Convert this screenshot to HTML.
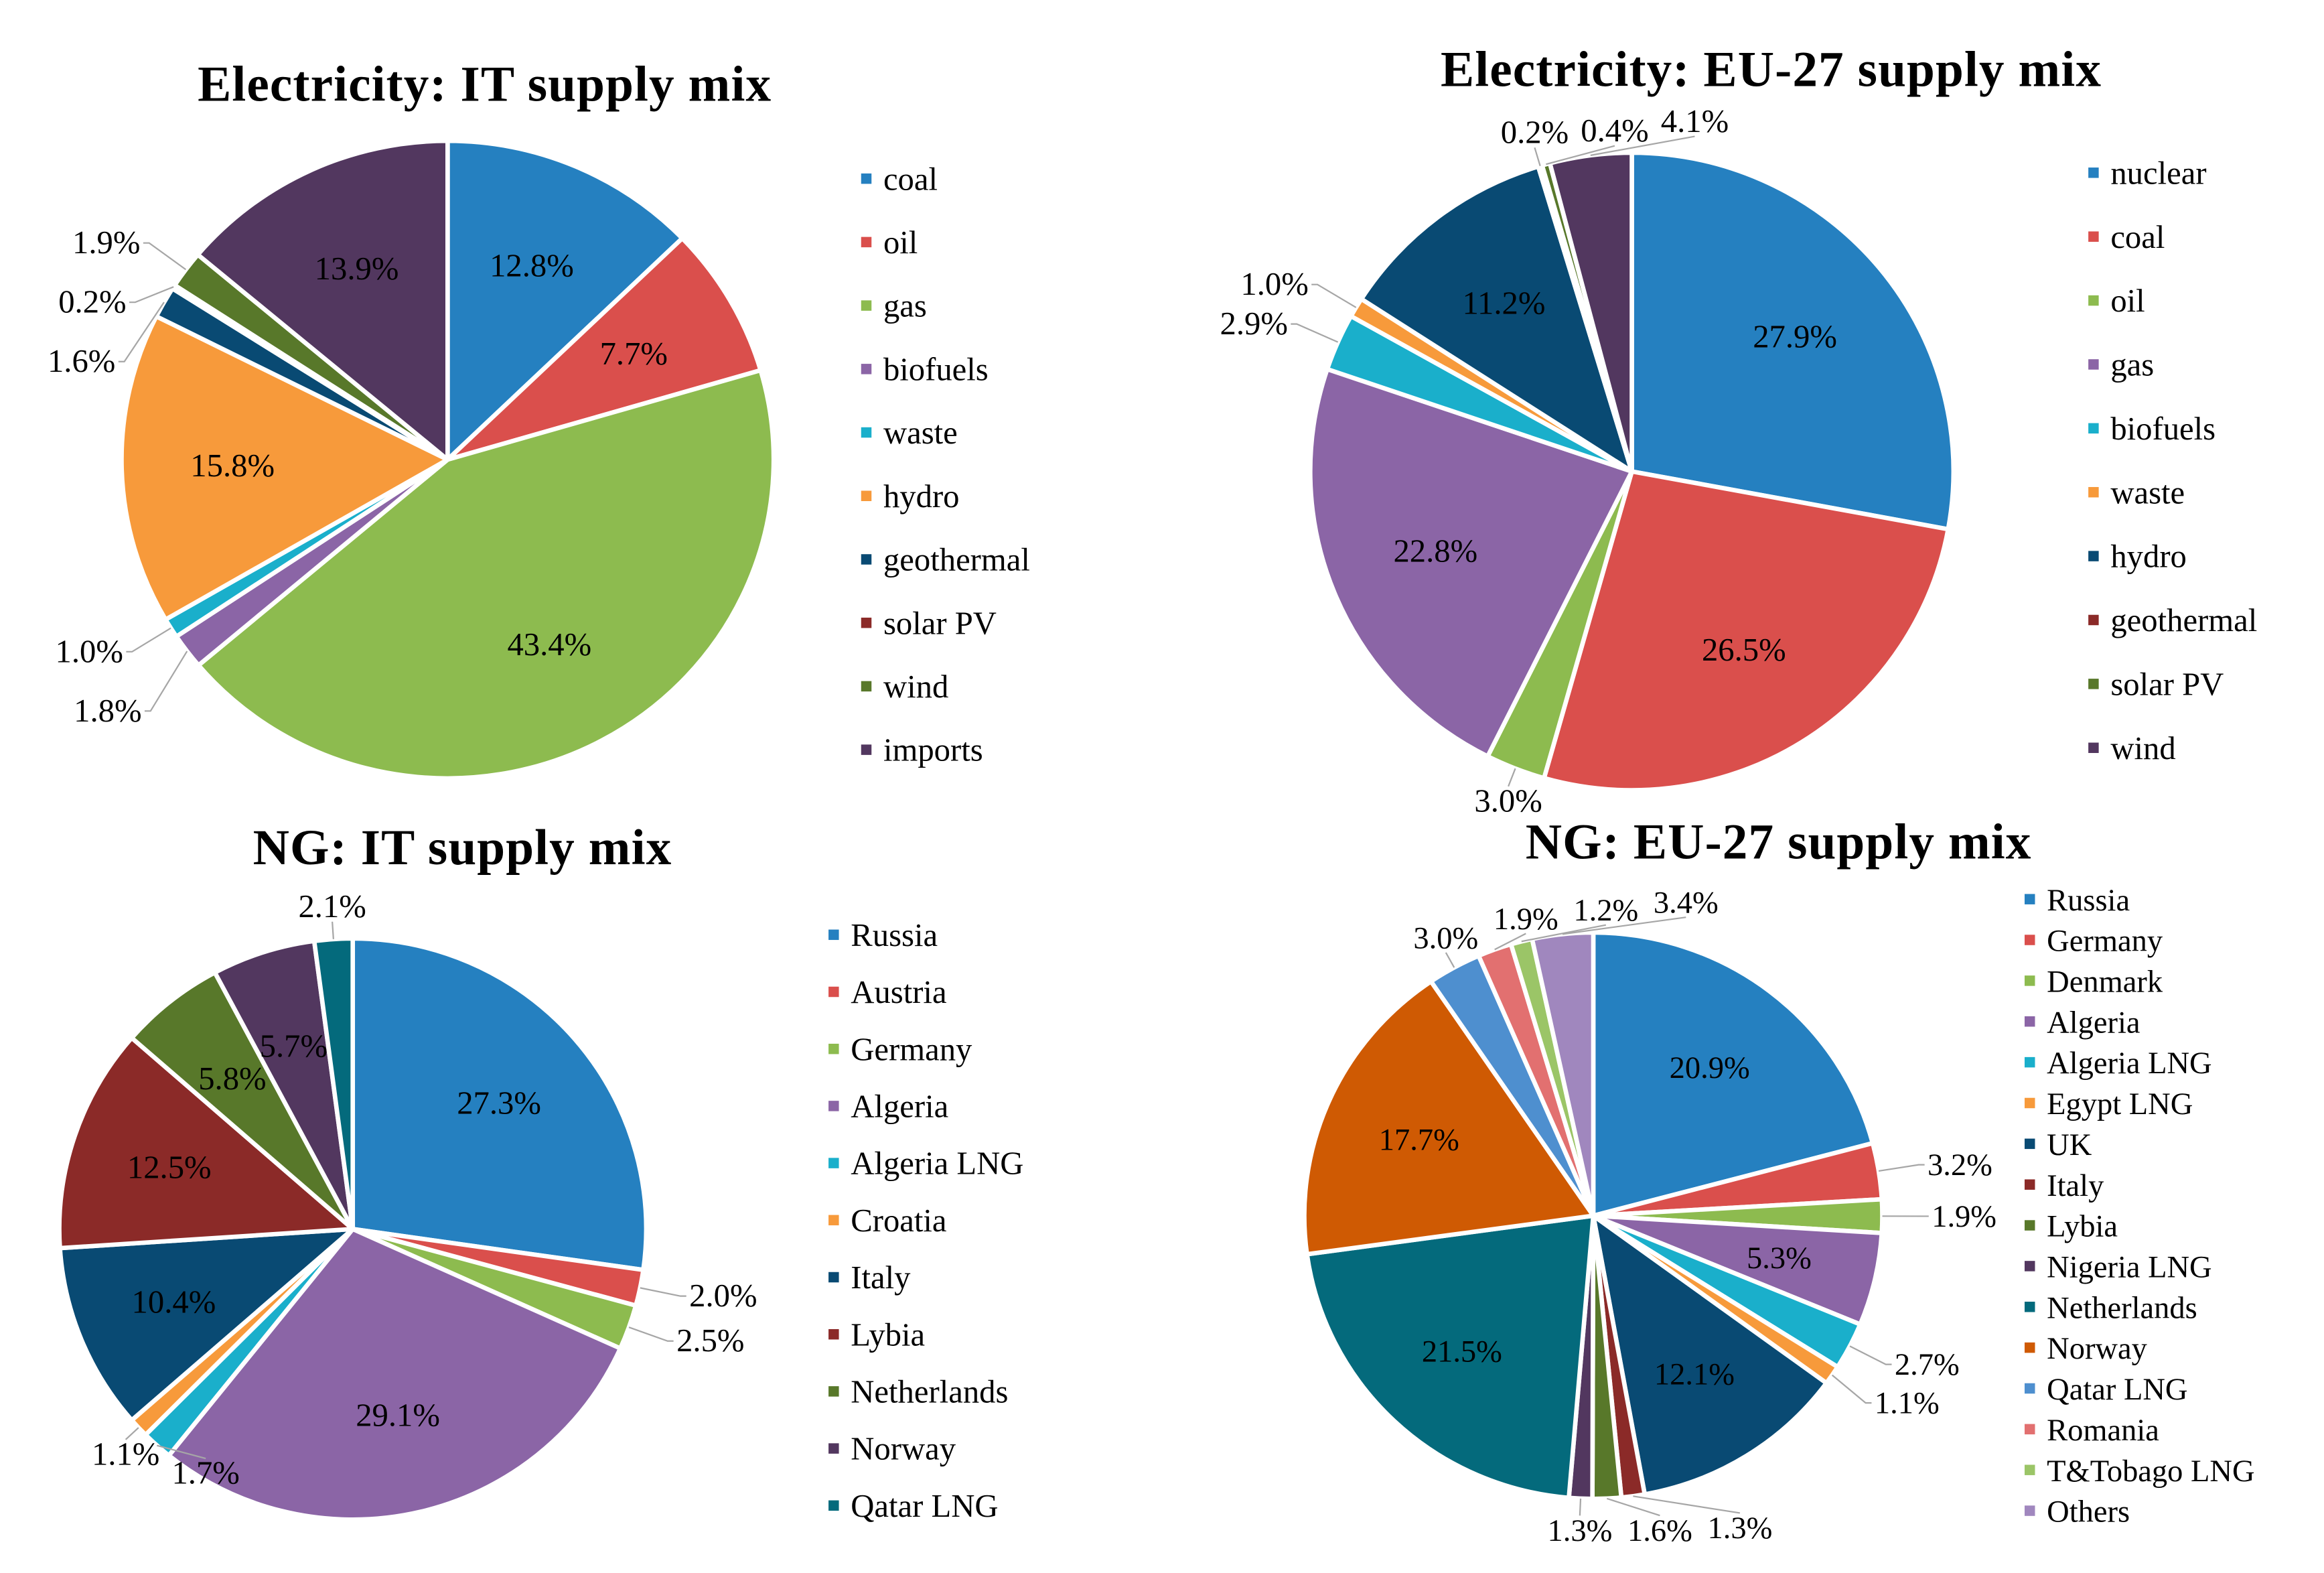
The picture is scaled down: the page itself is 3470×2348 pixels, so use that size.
<!DOCTYPE html>
<html><head><meta charset="utf-8"><style>
html,body{margin:0;padding:0;background:#fff;}
svg{display:block;}
text{font-family:"Liberation Serif",serif;}
</style></head><body>
<svg id="chart" width="3470" height="2348" viewBox="0 0 1568 1061" xmlns="http://www.w3.org/2000/svg">
<rect width="1568" height="1061" fill="#fff"/>
</svg>
<script>
const elecItCategories=["coal","oil","gas","biofuels","waste","hydro","geothermal","solar PV","wind","imports"];
const elecItValues=[12.8,7.7,43.4,1.8,1.0,15.8,1.6,0.2,1.9,13.9];
const elecEuCategories=["nuclear","coal","oil","gas","biofuels","waste","hydro","geothermal","solar PV","wind"];
const elecEuValues=[27.9,26.5,3.0,22.8,2.9,1.0,11.2,0.2,0.4,4.1];
const ngItCategories=["Russia","Austria","Germany","Algeria","Algeria LNG","Croatia","Italy","Lybia","Netherlands","Norway","Qatar LNG"];
const ngItValues=[27.3,2.0,2.5,29.1,1.7,1.1,10.4,12.5,5.8,5.7,2.1];
const ngEuCategories=["Russia","Germany","Denmark","Algeria","Algeria LNG","Egypt LNG","UK","Italy","Lybia","Nigeria LNG","Netherlands","Norway","Qatar LNG","Romania","T&Tobago LNG","Others"];
const ngEuValues=[20.9,3.2,1.9,5.3,2.7,1.1,12.1,1.3,1.6,1.3,21.5,17.7,3.0,1.9,1.2,3.4];

const svg=document.getElementById('chart');
const NS="http://www.w3.org/2000/svg";
function mk(tag,attrs,parent){const e=document.createElementNS(NS,tag);for(const k in attrs)e.setAttribute(k,attrs[k]);(parent||svg).appendChild(e);return e;}

const pal10=["#2580C0","#DA4F4C","#8DBB4F","#8B65A6","#1AAFCB","#F79A3B","#094A73","#8B2A28","#58782A","#52375F"];
const ngColors=["#2580C0","#DA4F4C","#8DBB4F","#8B65A6","#1AAFCB","#F79A3B","#094A73","#8B2A28","#58782A","#52375F","#046A7C","#CF5A03","#4E8FCF","#E27070","#9BC567","#A087BE"];

function drawPie(cfg){
  const g=mk('g',{});
  
  
  const t=mk('text',{x:cfg.tx,y:cfg.ty,'text-anchor':'middle','font-size':34,'font-weight':'bold',fill:'#000','letter-spacing':'0.5'},g);
  t.textContent=cfg.title;
  
  
  const total=cfg.values.reduce((a,b)=>a+b,0);
  let cum=0;
  const outside=[];
  cfg.values.forEach((v,i)=>{
    const a0=cum/total*2*Math.PI; cum+=v; const a1=cum/total*2*Math.PI;
    const p=(a)=>[cfg.cx+cfg.rx*Math.sin(a),cfg.cy-cfg.ry*Math.cos(a)];
    const [x0,y0]=p(a0),[x1,y1]=p(a1);
    const large=(a1-a0)>Math.PI?1:0;
    const path=mk('path',{d:`M${cfg.cx},${cfg.cy} L${x0},${y0} A${cfg.rx},${cfg.ry} 0 ${large} 1 ${x1},${y1} Z`,fill:cfg.colors[i],stroke:'#fff','stroke-width':3,'stroke-linejoin':'round'},g);
    
    
    const am=(a0+a1)/2;
    const lab=v.toFixed(1)+'%';
    if(v>=4.5){
      const f=0.66;
      const tt=mk('text',{x:cfg.cx+cfg.rx*f*Math.sin(am),y:cfg.cy-cfg.ry*f*Math.cos(am)+7,'text-anchor':'middle','font-size':cfg.fs,fill:'#000'},g);
      tt.textContent=lab;
      
      
    } else {
      const c=Math.cos(am);
      const vert=Math.abs(c)>0.62?(c>0?'top':'bot'):null;
      const rf=vert?1.06:1.14;
      outside.push({am,lab,ex:cfg.cx+cfg.rx*Math.sin(am),ey:cfg.cy-cfg.ry*c,
        x:cfg.cx+cfg.rx*rf*Math.sin(am),y:cfg.cy-cfg.ry*rf*c,left:Math.sin(am)<0,vert});
    }
  });
  [true,false].forEach(side=>{
    const grp=outside.filter(o=>!o.vert&&o.left===side).sort((a,b)=>a.y-b.y);
    for(let k=1;k<grp.length;k++){if(grp[k].y-grp[k-1].y<cfg.sp)grp[k].y=grp[k-1].y+cfg.sp;}
  });
  ['top','bot'].forEach(v=>{
    const grp=outside.filter(o=>o.vert===v).sort((a,b)=>a.x-b.x);
    for(let k=1;k<grp.length;k++){if(grp[k].x-grp[k-1].x<54)grp[k].x=grp[k-1].x+54;}
  });
  outside.forEach(o=>{
    let dx=o.left?-4:4, anchor=o.left?'end':'start', ty=o.y+7, tx=o.x+dx*1.5, pts;
    if(o.vert){
      anchor='middle'; tx=o.x; ty=o.vert==='top'?o.y-3:o.y+17;
      pts=`${o.ex},${o.ey} ${o.x},${o.y}`;
    } else pts=`${o.ex},${o.ey} ${o.x},${o.y} ${o.x+dx},${o.y}`;
    const ln=mk('polyline',{points:pts,fill:'none',stroke:'#A6A6A6','stroke-width':1},g);
    
    
    const tt=mk('text',{x:tx,y:ty,'text-anchor':anchor,'font-size':cfg.fs,fill:'#000'},g);
    tt.textContent=o.lab;
    
    
  });
  const lg=mk('g',{},g);
  
  
  cfg.cats.forEach((c,i)=>{
    const y=cfg.ly+i*cfg.lsp;
    const r=mk('rect',{x:cfg.lx,y:y-4,width:7,height:7,fill:cfg.colors[i]},lg);
    
    
    const tt=mk('text',{x:cfg.lx+15,y:y+7,'font-size':cfg.lfs,fill:'#000'},lg);
    tt.textContent=c;
    
    
  });
}

drawPie({name:'pie-electricity-it',title:'Electricity:  IT supply mix',tx:327,ty:68,cx:302,cy:310,rx:220,ry:215,
  values:elecItValues,cats:elecItCategories,colors:pal10,fs:22,sp:40,lx:581,ly:121,lsp:42.8,lfs:22});
drawPie({name:'pie-electricity-eu27',title:'Electricity:  EU-27 supply mix',tx:1195,ty:58,cx:1101,cy:318,rx:217,ry:215,
  values:elecEuValues,cats:elecEuCategories,colors:pal10,fs:22,sp:26,lx:1409,ly:117,lsp:43.1,lfs:22});
drawPie({name:'pie-ng-it',title:'NG: IT supply mix',tx:312,ty:583,cx:238,cy:829,rx:198,ry:196,
  values:ngItValues,cats:ngItCategories,colors:ngColors,fs:22,sp:26,lx:559,ly:631,lsp:38.5,lfs:22});
drawPie({name:'pie-ng-eu27',title:'NG: EU-27 supply mix',tx:1200,ty:579,cx:1075,cy:820,rx:195,ry:191,
  values:ngEuValues,cats:ngEuCategories,colors:ngColors,fs:21,sp:26,lx:1366,ly:607,lsp:27.5,lfs:21});
</script>
</body></html>
